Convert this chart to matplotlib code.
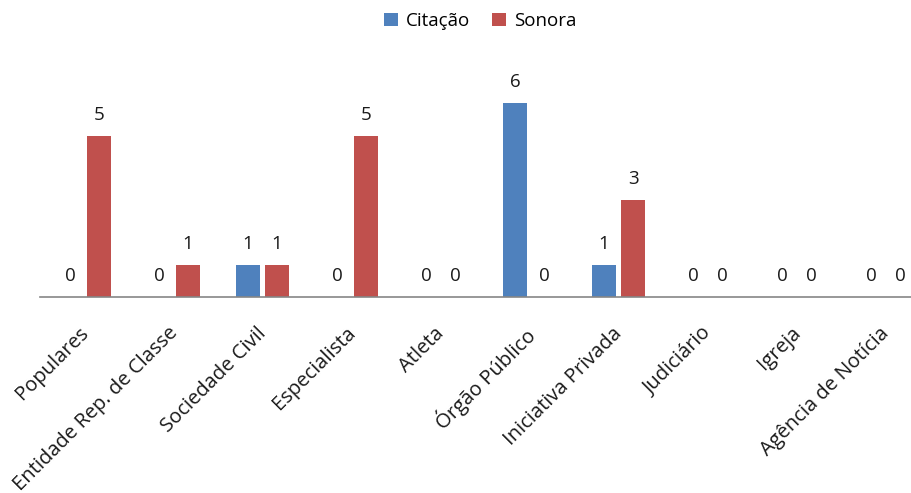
import numpy as np
import matplotlib
matplotlib.use('Agg')
import matplotlib.pyplot as plt
import matplotlib.transforms as mtransforms

categories = ["Populares", "Entidade Rep. de Classe", "Sociedade Civil", "Especialista",
              "Atleta", "Órgão Público", "Iniciativa Privada", "Judiciário", "Igreja",
              "Agência de Notícia"]
citacao = [0, 0, 1, 0, 0, 6, 1, 0, 0, 0]
sonora = [5, 1, 1, 5, 0, 0, 3, 0, 0, 0]

plt.rcParams['font.family'] = ['Open Sans', 'DejaVu Sans']

fig = plt.figure(figsize=(9.11, 4.93), dpi=100)
ax = fig.add_axes([40 / 911, 196 / 493, 890 / 911, 226 / 493])

x = np.arange(len(categories))
w = 0.262
off = 0.163
b1 = ax.bar(x - off, citacao, w, color="#4F81BD", label="Citação")
b2 = ax.bar(x + off, sonora, w, color="#C0504D", label="Sonora")

# value labels
for bars, vals in ((b1, citacao), (b2, sonora)):
    for rect, v in zip(bars, vals):
        ax.annotate(str(v), (rect.get_x() + rect.get_width() / 2, v),
                    xytext=(0, 15), textcoords="offset points",
                    ha="center", va="center", fontsize=13.5, color="#1a1a1a")

ax.set_xlim(-0.5, len(categories) - 0.5)
ax.set_ylim(0, 7)
ax.set_yticks([])
for s in ["top", "right", "left"]:
    ax.spines[s].set_visible(False)
ax.spines["bottom"].set_color("#868686")
ax.spines["bottom"].set_linewidth(1.2)
ax.tick_params(axis="x", length=0, pad=19)
ax.set_xticks(x)
ax.set_xticklabels(categories, rotation=45, ha="right", va="top",
                   rotation_mode="anchor", fontsize=14.5, color="#1a1a1a")
# nudge labels a bit to the left, like the original
shift = mtransforms.ScaledTranslation(-6 / 100, 0, fig.dpi_scale_trans)
for lbl in ax.get_xticklabels():
    lbl.set_transform(lbl.get_transform() + shift)

fig.legend(loc="upper center", bbox_to_anchor=(480 / 911, 1.01), ncol=2,
           frameon=False, fontsize=13.5, handlelength=0.75, handleheight=0.75,
           handletextpad=0.4, columnspacing=1.2)

plt.savefig("out.png", format="png")
